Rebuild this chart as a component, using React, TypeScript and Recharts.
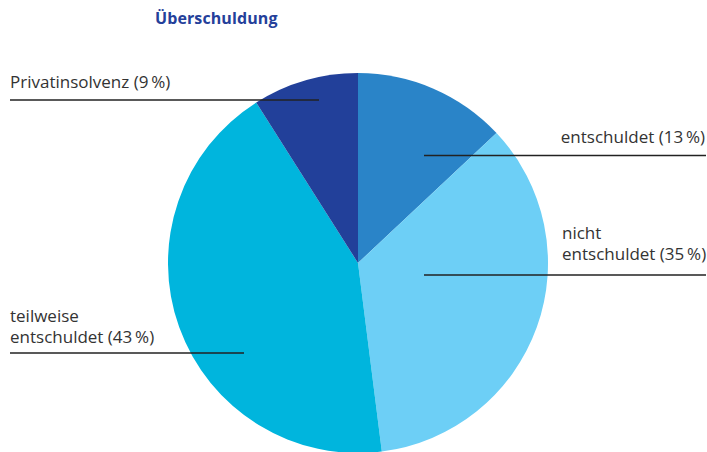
import { PieChart, Pie, Cell } from "recharts"

const categories = [
  "entschuldet",
  "nicht entschuldet",
  "teilweise entschuldet",
  "Privatinsolvenz",
]
const shares = [13, 35, 43, 9]
const labelLines = [
  ["entschuldet (13\u2009%)"],
  ["nicht", "entschuldet (35\u2009%)"],
  ["teilweise", "entschuldet (43\u2009%)"],
  ["Privatinsolvenz (9\u2009%)"],
]
const colors = ["#2a84c8", "#6dcff6", "#00b5dd", "#22409a"]

const data = categories.map((name, i) => ({ name, value: shares[i] }))

// annotation placement: text anchor, rule from x1 to x2 at y
const labelLayout = [
  { tx: 705, anchor: "end", ty: 143, x1: 424, x2: 706, ly: 155.5 },
  { tx: 562, anchor: "start", ty: 239, x1: 424, x2: 706, ly: 275 },
  { tx: 10, anchor: "start", ty: 322, x1: 10, x2: 244, ly: 353 },
  { tx: 10, anchor: "start", ty: 88, x1: 10, x2: 319, ly: 100 },
]

function renderLabel(props: any) {
  const i = props.index
  const l = labelLayout[i]
  return (
    <g key={`lbl-${i}`}>
      <line x1={l.x1} x2={l.x2} y1={l.ly} y2={l.ly} stroke="#222" strokeWidth={1.3} />
      <text
        x={l.tx}
        y={l.ty}
        textAnchor={l.anchor}
        fill="#333"
        fontSize={17}
        fontFamily="'Open Sans', sans-serif"
      >
        {labelLines[i].map((t, j) => (
          <tspan key={j} x={l.tx} dy={j === 0 ? 0 : 21}>
            {t}
          </tspan>
        ))}
      </text>
    </g>
  )
}

export default function App() {
  return (
    <div
      style={{
        position: "absolute",
        left: 0,
        top: 0,
        width: 707,
        height: 452,
        background: "#fff",
        overflow: "hidden",
      }}
    >
      <div
        style={{
          position: "absolute",
          left: 155,
          top: 7,
          fontFamily: "'Open Sans', sans-serif",
          fontWeight: 700,
          fontSize: 16,
          color: "#24409a",
          letterSpacing: 0.1,
        }}
      >
        Überschuldung
      </div>
      <PieChart width={707} height={452} margin={{ top: 0, right: 0, bottom: 0, left: 0 }}>
        <Pie
          data={data}
          dataKey="value"
          nameKey="name"
          cx={358}
          cy={263}
          outerRadius={190}
          startAngle={90}
          endAngle={-270}
          stroke="none"
          labelLine={false}
          label={renderLabel}
          isAnimationActive={false}
        >
          {data.map((d, i) => (
            <Cell key={d.name} fill={colors[i]} />
          ))}
        </Pie>
      </PieChart>
    </div>
  )
}
